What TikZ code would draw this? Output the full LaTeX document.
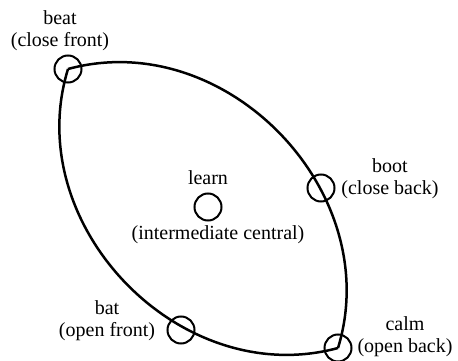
\documentclass[tikz,border=0pt]{standalone}
\usepackage{fontspec}
\setmainfont{Liberation Serif}
\usepackage{tikz}
\tikzset{
    vowel/.style={draw, circle, line width=2pt, minimum size=27pt, inner sep=0pt},
    lbl/.style={align=center, font=\fontsize{20}{22}\selectfont, inner sep=0pt},
    lens/.style={line width=2.5pt}
}

\begin{document}
\begin{tikzpicture}[x=1pt,y=-1pt]
\useasboundingbox (0,0) rectangle (458,361);
\node[vowel] (beat) at (68,69) {};
\node[vowel] (boot) at (321,188) {};
\node[vowel] (learn) at (208,207) {};
\node[vowel] (bat) at (181,330) {};
\node[vowel] (calm) at (338,348) {};
\draw[lens] (beat.center) .. controls (226,26) and (386,192) .. (calm.center);
\draw[lens] (beat.center) .. controls (20,225) and (180,391) .. (calm.center);
\node[lbl] (beattxt) at (60,31) {beat\\(close front)};
\node[lbl] (boottxt) at (390,179) {boot\\(close back)};
\node[lbl] (learntxt) at (208,178) {learn};
\node[lbl] (centraltxt) at (218,235) {(intermediate central)};
\node[lbl] (battxt) at (107,321) {bat\\(open front)};
\node[lbl] (calmtxt) at (405,337) {calm\\(open back)};
\end{tikzpicture}
\end{document}
